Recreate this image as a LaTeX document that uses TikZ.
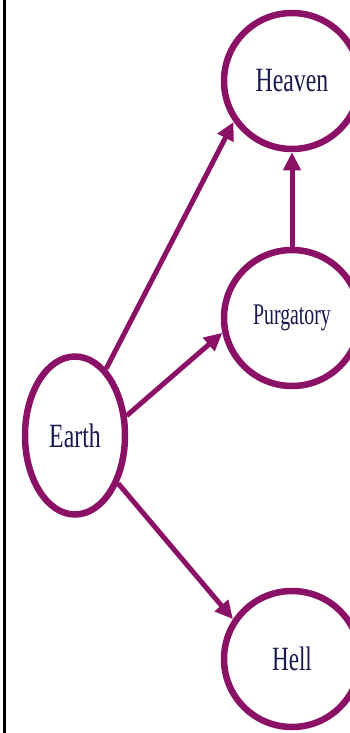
\documentclass[tikz,border=0pt]{standalone}
\usepackage{fontspec}
\setmainfont{Liberation Serif}
\usepackage{graphicx}
\usetikzlibrary{shapes.geometric,arrows.meta}
\definecolor{ring}{HTML}{8A1166}
\definecolor{ink}{HTML}{1A1A50}
\tikzset{
  realm/.style={draw=ring, line width=6.5pt, fill=white, circle, inner sep=0pt, minimum size=136pt, text=ink},
  earthbox/.style={draw=ring, line width=6.5pt, fill=white, ellipse, inner sep=0pt, minimum width=100pt, minimum height=158pt, text=ink},
  conn/.style={draw=ring, line width=5pt, -{Triangle[length=18pt,width=17pt]}},
}
\newcommand{\lbl}[3]{{\fontsize{#1}{#1}\selectfont\scalebox{#2}[1]{#3}}}
\begin{document}
\begin{tikzpicture}[x=1pt,y=-1pt]
\useasboundingbox (0,0) rectangle (350,733);
\fill[white] (0,0) rectangle (350,733);
\draw[black, line width=3pt] (4,0) -- (4,733);
\node[realm] (heaven) at (292,81) {\lbl{34}{0.7}{Heaven}};
\node[realm] (purg) at (292,318) {\lbl{30}{0.66}{Purgatory}};
\node[realm] (hell) at (292,659) {\lbl{34}{0.68}{Hell}};
\node[earthbox] (earth) at (75,435.5) {\lbl{34}{0.7}{Earth}};
\draw[conn] (earth.65) -- (heaven.215);
\draw[conn] (earth.21) -- (purg.192);
\draw[conn] (purg.north) -- (heaven.south);
\draw[conn] (earth.-48) -- (hell.146);
\end{tikzpicture}
\end{document}
